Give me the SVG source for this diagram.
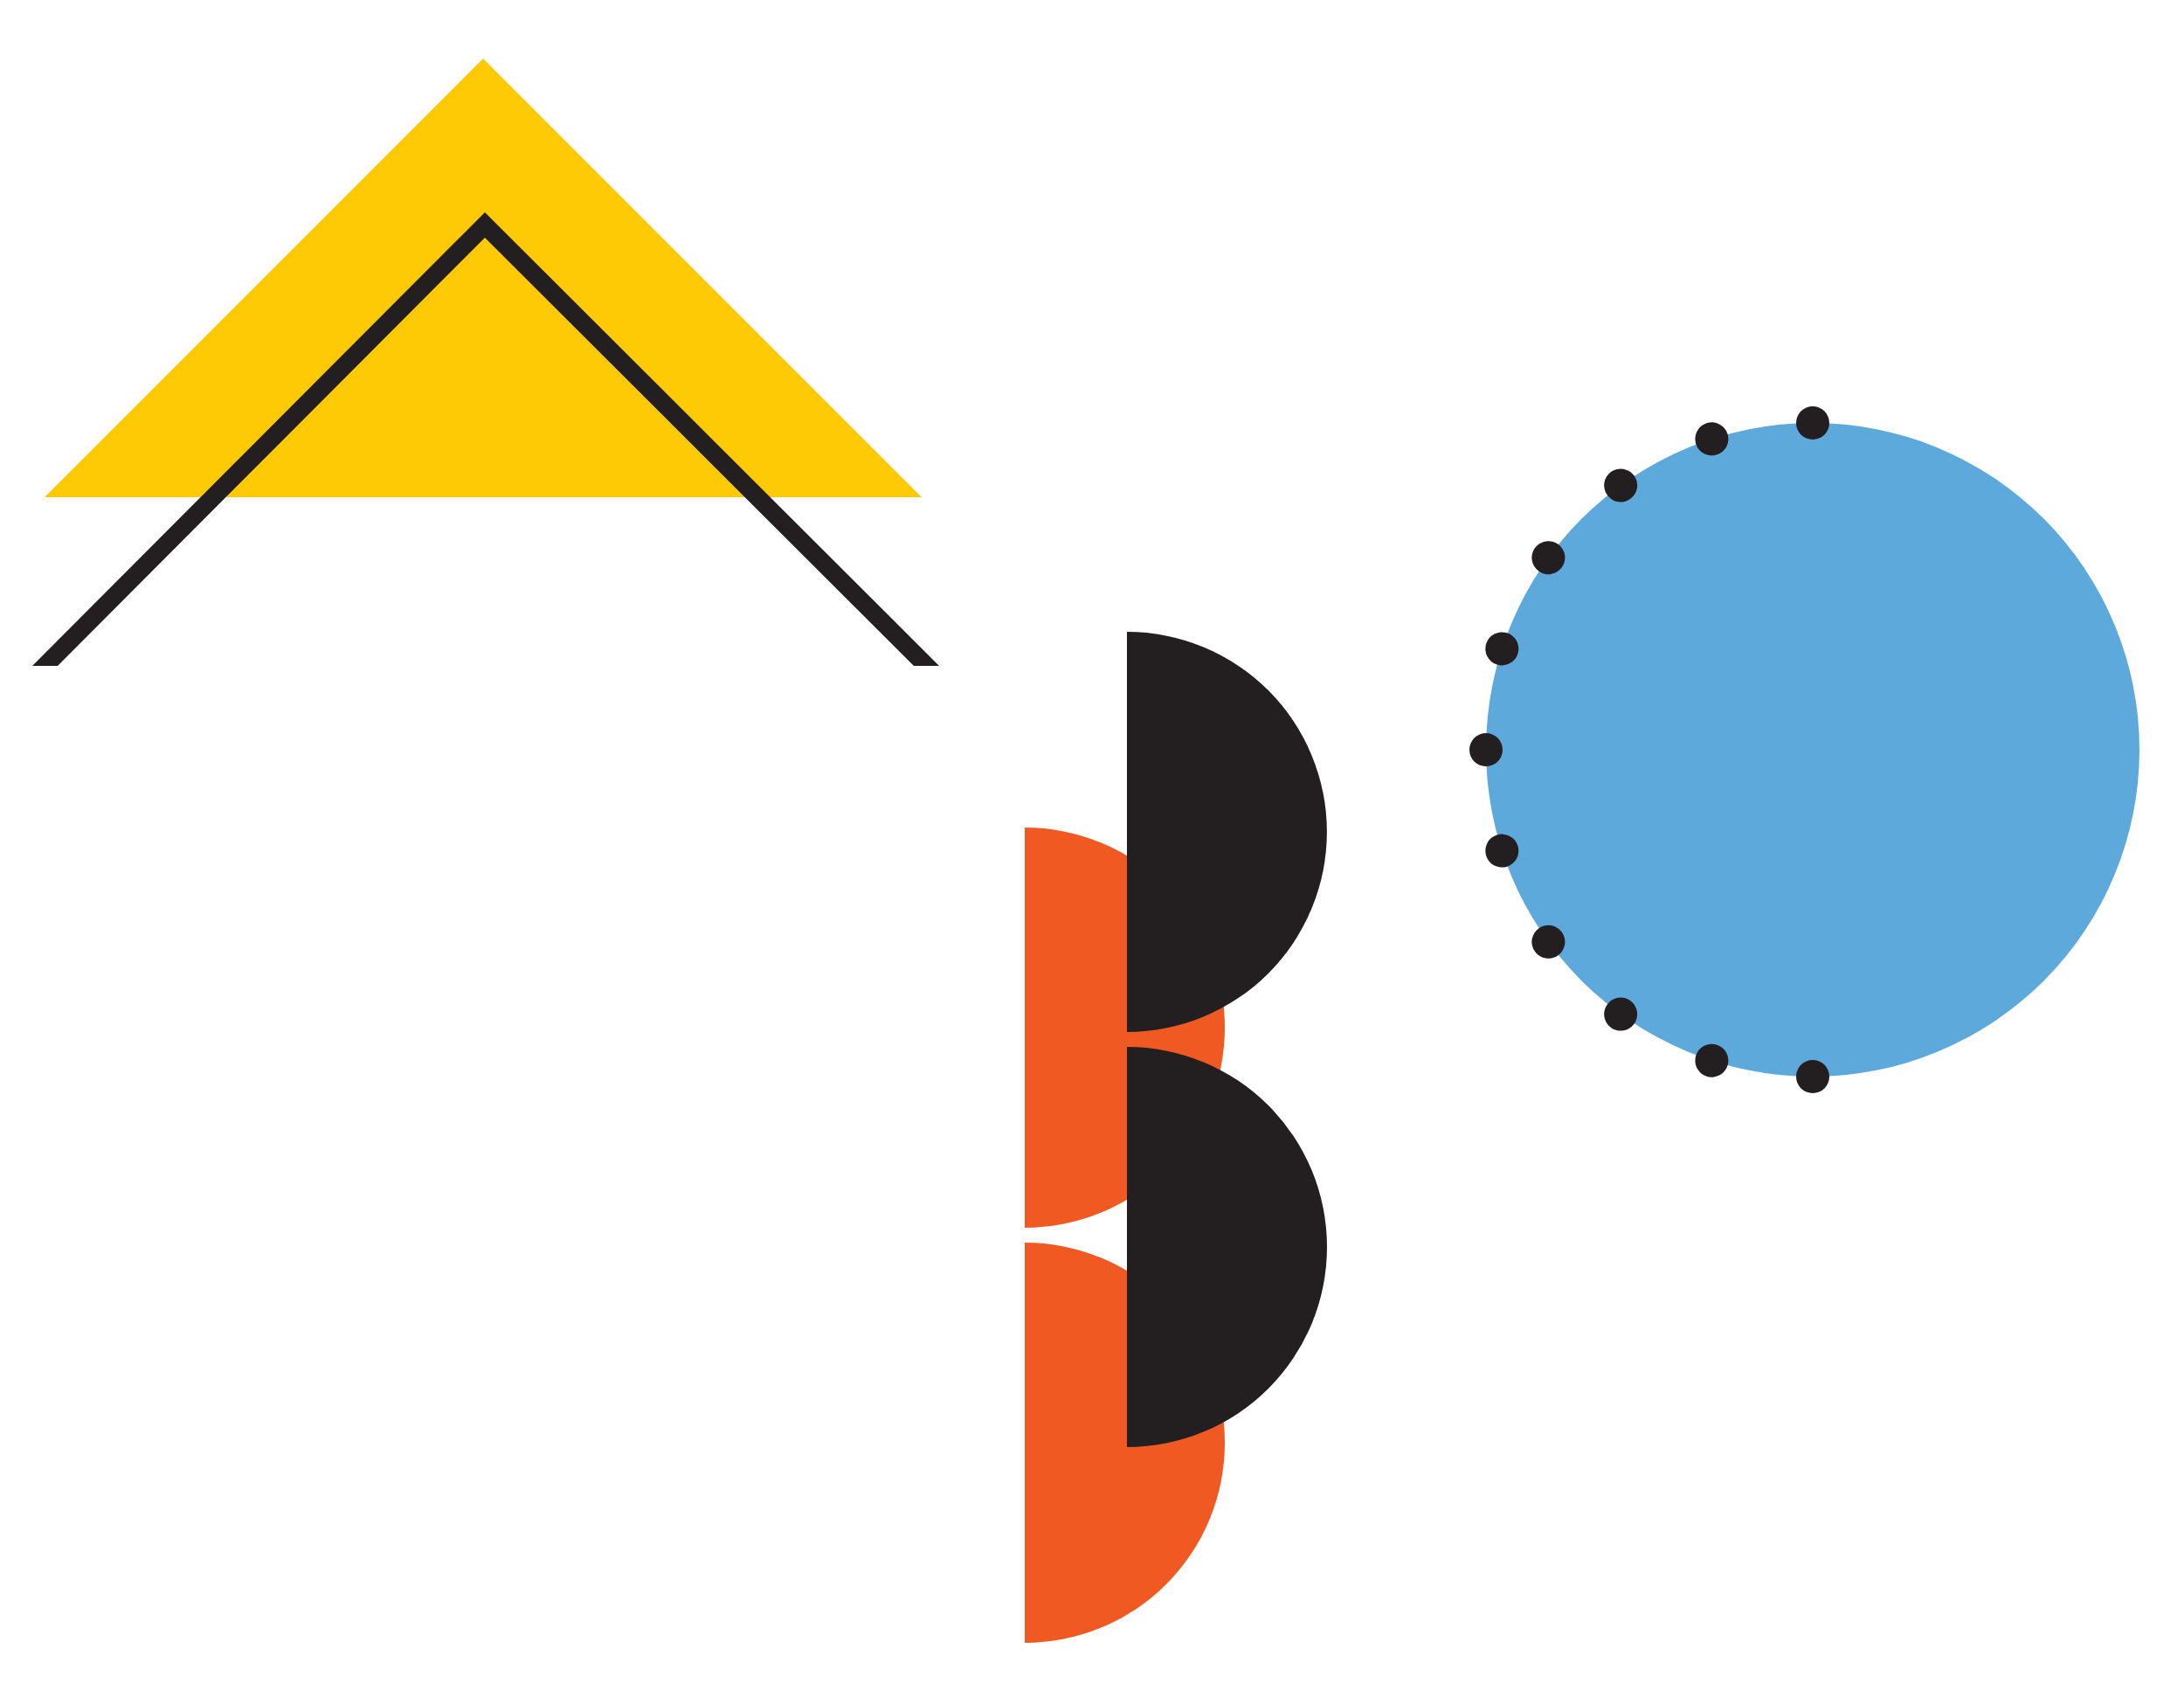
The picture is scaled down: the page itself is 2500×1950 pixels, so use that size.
<svg xmlns="http://www.w3.org/2000/svg" width="2500" height="1950" viewBox="0 0 2500 1950">
<defs><style>.k{fill:#231F20}.o{fill:#F05A22}</style>
<circle id="d" cx="2075" cy="484" r="19" class="k"/></defs>
<rect width="2500" height="1950" fill="#fff"/>
<g id="roof">
<polygon points="553,67 1055,569 51,569" fill="#FECA06"/>
<polygon class="k" points="555,243 1075,762 1046,762 555,272 66,762 37,762"/>
</g>
<g id="halves">
<path class="o" d="M1173,947 A229,229 0 0 1 1173,1405 Z"/>
<path class="o" d="M1173,1422 A229,229 0 0 1 1173,1880 Z"/>
<path class="k" d="M1290,723 A229,229 0 0 1 1290,1181 Z"/>
<path class="k" d="M1290,1198 A229,229 0 0 1 1290,1656 Z"/>
</g>
<g id="circle">
<circle cx="2075" cy="858" r="374" fill="#5DA9DC"/>
<use href="#d"/>
<use href="#d" transform="rotate(-18 2075 858)"/>
<use href="#d" transform="rotate(-36 2075 858)"/>
<use href="#d" transform="rotate(-54 2075 858)"/>
<use href="#d" transform="rotate(-72 2075 858)"/>
<use href="#d" transform="rotate(-90 2075 858)"/>
<use href="#d" transform="rotate(-108 2075 858)"/>
<use href="#d" transform="rotate(-126 2075 858)"/>
<use href="#d" transform="rotate(-144 2075 858)"/>
<use href="#d" transform="rotate(-162 2075 858)"/>
<use href="#d" transform="rotate(-180 2075 858)"/>
</g>
</svg>
